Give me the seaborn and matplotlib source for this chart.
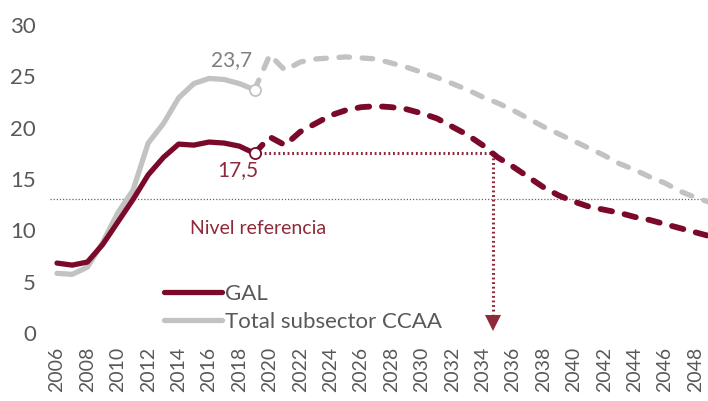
import matplotlib
matplotlib.use("Agg")
import matplotlib.pyplot as plt
import seaborn as sns
import pandas as pd

# Datos
years_hist = list(range(2006, 2020))
gal_hist = [6.8, 6.6, 6.9, 8.6, 10.8, 13.0, 15.4, 17.1, 18.4, 18.3, 18.6, 18.5, 18.2, 17.5]
ccaa_hist = [5.8, 5.7, 6.4, 8.8, 11.7, 13.9, 18.5, 20.4, 22.9, 24.3, 24.8, 24.7, 24.3, 23.7]

years_proj = list(range(2019, 2050))
gal_proj = [17.5, 19.1, 18.3, 19.6, 20.4, 21.2, 21.7, 22.0, 22.1, 22.0, 21.8, 21.4,
            20.9, 20.1, 19.3, 18.3, 17.1, 16.2, 15.2, 14.2, 13.4, 12.8, 12.3, 12.0,
            11.7, 11.3, 11.0, 10.6, 10.2, 9.8, 9.4]
ccaa_proj = [23.7, 27.1, 25.6, 26.4, 26.7, 26.8, 26.9, 26.8, 26.7, 26.3, 25.9, 25.4,
             24.9, 24.3, 23.7, 23.0, 22.4, 21.7, 20.9, 20.1, 19.4, 18.7, 18.0, 17.3,
             16.5, 15.9, 15.2, 14.6, 13.8, 13.2, 12.7]

nivel_ref = 13.0
cruce_anio = 2034.7
ticks_x = list(range(2006, 2049, 2))

RED = "#7B0A2A"
RED_TXT = "#8E2A3A"
GREY = "#C2C2C2"
TXT = "#595959"

df_hist = pd.DataFrame({"anio": years_hist, "GAL": gal_hist, "CCAA": ccaa_hist})
df_proj = pd.DataFrame({"anio": years_proj, "GAL": gal_proj, "CCAA": ccaa_proj})

sns.set_style("white")
plt.rcParams["font.family"] = ["Lato", "DejaVu Sans"]

fig = plt.figure(figsize=(7.08, 4.01), dpi=100)
ax = fig.add_axes([50 / 708, 61 / 401, 658 / 708, 320 / 401])

# Nivel de referencia
ax.axhline(nivel_ref, color="#666666", lw=0.9, ls=(0, (1, 1.5)), zorder=1)

# Proyecciones (discontinuas)
sns.lineplot(data=df_proj, x="anio", y="CCAA", ax=ax, color=GREY, lw=3.8,
             zorder=2).lines[-1].set(linestyle=(0, (2.0, 2.4)), dash_capstyle="round")
sns.lineplot(data=df_proj, x="anio", y="GAL", ax=ax, color=RED, lw=4.2,
             zorder=3).lines[-1].set(linestyle=(0, (2.0, 2.2)), dash_capstyle="round")

# Historico (continuo)
sns.lineplot(data=df_hist, x="anio", y="CCAA", ax=ax, color=GREY, lw=3.8,
             label="Total subsector CCAA", zorder=4)
sns.lineplot(data=df_hist, x="anio", y="GAL", ax=ax, color=RED, lw=3.8,
             label="GAL", zorder=5)

# Marcadores ultimo dato
ax.plot(years_hist[-1], ccaa_hist[-1], "o", ms=8, mfc="white", mec=GREY, mew=1.3, zorder=6)
ax.plot(years_hist[-1], gal_hist[-1], "o", ms=8, mfc="white", mec=RED, mew=1.3, zorder=6)

# Flecha punteada
ax.plot([years_hist[-1], cruce_anio, cruce_anio], [gal_hist[-1], gal_hist[-1], 1.8],
        color=RED_TXT, lw=2.2, ls=(0, (0.6, 0.9)), zorder=2)
ax.plot(cruce_anio, 1.0, marker="v", ms=12, color=RED_TXT, mew=0, zorder=2)

# Etiquetas
ax.text(2017.5, 26.6, "23,7", color="#7F7F7F", fontsize=15, ha="center", va="center")
ax.text(2017.9, 15.9, "17,5", color=RED_TXT, fontsize=15, ha="center", va="center")
ax.text(2019.2, 10.2, "Nivel referencia", color=RED_TXT, fontsize=14, ha="center", va="center")

h, l = ax.get_legend_handles_labels()
leg = ax.legend(h[::-1], l[::-1], loc="upper left", bbox_to_anchor=(0.173, 0.176),
                frameon=False, fontsize=16, handlelength=2.6, handletextpad=0.15,
                labelspacing=0.36, borderaxespad=0, borderpad=0)
for t in leg.get_texts():
    t.set_color(TXT)

ax.set_xlim(2005.54, 2048.83)
ax.set_ylim(-0.7, 30.5)
ax.set_xticks(ticks_x)
ax.set_xticklabels([str(y) for y in ticks_x], rotation=90)
ax.set_yticks([0, 5, 10, 15, 20, 25, 30])
ax.tick_params(axis="y", labelsize=16, colors=TXT, length=0, pad=10)
ax.tick_params(axis="x", labelsize=14, colors=TXT, length=0, pad=5)
ax.set_xlabel("")
ax.set_ylabel("")
sns.despine(ax=ax, left=True, bottom=True)

fig.savefig("out.png", dpi=100)
